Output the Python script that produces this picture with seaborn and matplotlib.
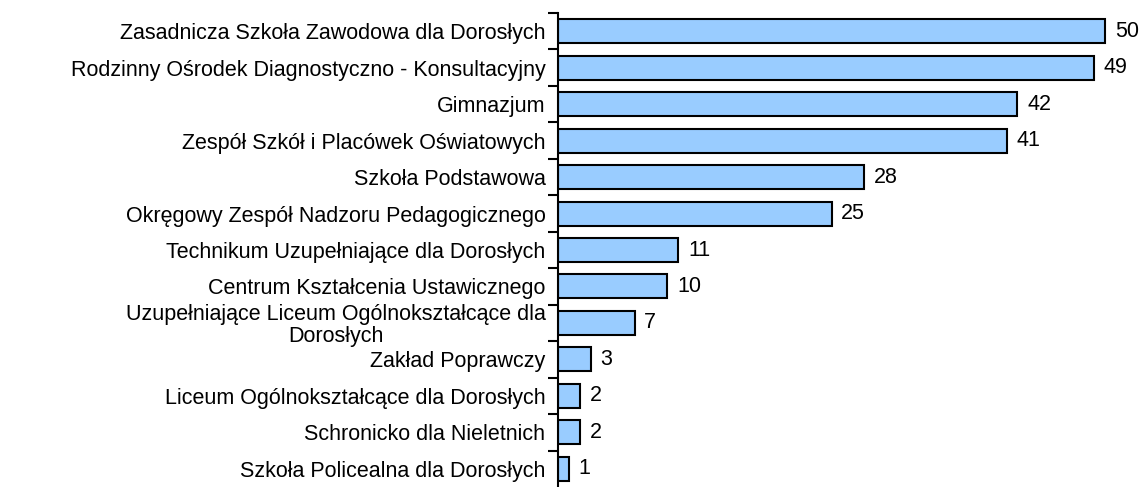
import matplotlib
matplotlib.use("Agg")
import matplotlib.pyplot as plt
import seaborn as sns
import pandas as pd

categories = [
    "Zasadnicza Szkoła Zawodowa dla Dorosłych",
    "Rodzinny Ośrodek Diagnostyczno - Konsultacyjny",
    "Gimnazjum",
    "Zespół Szkół i Placówek Oświatowych",
    "Szkoła Podstawowa",
    "Okręgowy Zespół Nadzoru Pedagogicznego",
    "Technikum Uzupełniające dla Dorosłych",
    "Centrum Kształcenia Ustawicznego",
    "Uzupełniające Liceum Ogólnokształcące dla\nDorosłych",
    "Zakład Poprawczy",
    "Liceum Ogólnokształcące dla Dorosłych",
    "Schronicko dla Nieletnich",
    "Szkoła Policealna dla Dorosłych",
]
values = [50, 49, 42, 41, 28, 25, 11, 10, 7, 3, 2, 2, 1]

df = pd.DataFrame({"kategoria": categories, "liczba": values})

sns.set_style("white")
plt.rcParams["font.family"] = ["Liberation Sans", "DejaVu Sans"]

FS = 15.5
W, H, DPI = 1142, 487, 100
fig = plt.figure(figsize=(W / DPI, H / DPI), dpi=DPI)
ax = fig.add_axes([558 / W, 0.0, (W - 558) / W, 1 - 13 / H])

sns.barplot(data=df, y="kategoria", x="liczba", orient="h", ax=ax,
            color="#99CCFF", saturation=1, edgecolor="black",
            linewidth=1.5, width=0.66)

ax.set_xlim(0, (W - 558) / 10.94)
ax.set_ylim(len(categories) - 0.5, -0.5)
ax.set_xlabel("")
ax.set_ylabel("")
ax.set_xticks([])

# boundary ticks between categories on the left axis
ax.set_yticks([i - 0.5 for i in range(len(categories))], minor=False)
ax.set_yticklabels([])
ax.tick_params(axis="y", which="major", length=7, width=1.5, color="black", left=True)
ax.set_yticks(range(len(categories)), minor=True)
ax.set_yticklabels(categories, minor=True, fontsize=FS, color="black")
ax.tick_params(axis="y", which="minor", length=0, pad=9)
for lbl in ax.get_yticklabels(minor=True):
    lbl.set_multialignment("center")
    lbl.set_linespacing(1.05)

for side in ["top", "right", "bottom"]:
    ax.spines[side].set_visible(False)
ax.spines["left"].set_linewidth(1.5)
ax.spines["left"].set_color("black")

for i, v in enumerate(values):
    ax.annotate(str(v), xy=(v, i), xytext=(7, 0), textcoords="offset points",
                va="center", ha="left", fontsize=FS, color="black")

fig.savefig("out.png", dpi=DPI)
